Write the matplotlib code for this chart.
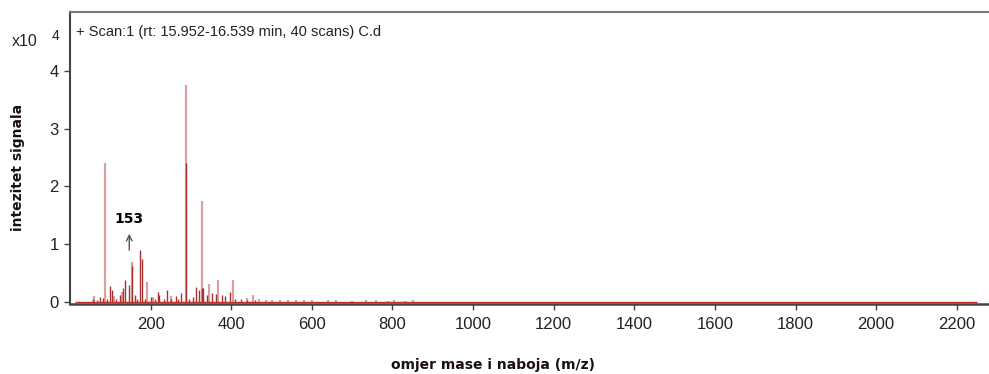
import matplotlib
matplotlib.use("Agg")
import matplotlib.pyplot as plt

# Peak list (m/z, intensity in units of 10^4)
dark_mz = [58, 68, 75, 82, 92, 99, 104, 114, 123, 132, 136, 146, 153, 160, 166, 174, 178, 186,
           200, 210, 218, 222, 232, 241, 250, 262, 268, 275, 287, 296, 305, 313, 320, 328,
           331, 340, 352, 362, 376, 384, 397, 410, 425, 440, 460]
dark_int = [0.06, 0.04, 0.08, 0.07, 0.05, 0.27, 0.20, 0.05, 0.12, 0.25, 0.39, 0.30, 0.62, 0.12,
            0.06, 0.90, 0.75, 0.06, 0.08, 0.05, 0.18, 0.12, 0.05, 0.20, 0.06, 0.10, 0.05, 0.16,
            2.40, 0.06, 0.08, 0.26, 0.20, 0.25, 0.25, 0.12, 0.15, 0.14, 0.13, 0.10, 0.18, 0.06,
            0.05, 0.04, 0.03]

pale_mz = [60, 86, 108, 128, 153, 190, 205, 250, 287, 328, 345, 368, 405, 440, 454, 470, 485,
           500, 520, 540, 560, 580, 600, 640, 660, 700, 735, 760, 790, 805, 830, 850]
pale_int = [0.10, 2.40, 0.10, 0.18, 0.69, 0.34, 0.08, 0.10, 3.75, 1.74, 0.32, 0.39, 0.39, 0.07,
            0.13, 0.05, 0.04, 0.04, 0.03, 0.03, 0.04, 0.03, 0.03, 0.04, 0.03, 0.02, 0.03, 0.03,
            0.02, 0.03, 0.02, 0.03]

baseline_range = (12, 2250)
annot_mz = 153
annot_label = "153"

fig = plt.figure(figsize=(9.89, 3.74), dpi=100)
ax = fig.add_axes([0.0708, 0.187, 0.93, 0.781])

ax.vlines(pale_mz, 0, pale_int, color="#d9a2a2", linewidth=1.6)
ax.vlines(dark_mz, 0, dark_int, color="#a83030", linewidth=1.0)
ax.hlines(0, *baseline_range, color="#c0302a", linewidth=1.0)

ax.set_xlim(0, 2282)
ax.set_ylim(-0.035, 5.02)
ax.set_xticks(range(200, 2201, 200))
ax.set_yticks([0, 1, 2, 3, 4])

for lbl in ax.get_xticklabels() + ax.get_yticklabels():
    lbl.set_fontfamily("Liberation Sans")
    lbl.set_fontsize(12)
    lbl.set_color("#222222")
ax.tick_params(axis="x", direction="out", length=4, width=1, color="#444444", pad=5)
ax.tick_params(axis="y", direction="out", length=4, width=1, color="#444444", pad=4)

ax.spines["top"].set_color("#777777")
ax.spines["top"].set_linewidth(1.5)
ax.spines["left"].set_color("#444444")
ax.spines["left"].set_linewidth(1.5)
ax.spines["bottom"].set_color("#444444")
ax.spines["bottom"].set_linewidth(1.8)
ax.spines["right"].set_visible(False)

ax.text(0.006, 0.93, "+ Scan:1 (rt: 15.952-16.539 min, 40 scans) C.d",
        transform=ax.transAxes, fontsize=10.5, family="Liberation Sans",
        color="#222222", va="center", ha="left")
fig.text(12 / 989, 1 - 41 / 374, "x10", fontsize=11.5, family="Liberation Sans",
         color="#222222", va="center", ha="left")
fig.text(52 / 989, 1 - 36 / 374, "4", fontsize=10, family="Liberation Sans",
         color="#222222", va="center", ha="left")

fig.text(18 / 989, 1 - 167 / 374, "intezitet signala", fontsize=10, fontweight="bold",
         color="#1a1010", family="DejaVu Sans", rotation=90, ha="center", va="center")
fig.text(493 / 989, 1 - 365 / 374, "omjer mase i naboja (m/z)", fontsize=10,
         fontweight="bold", color="#1a1010", family="DejaVu Sans", ha="center", va="center")

ax.annotate("", xy=(annot_mz - 6, 1.23), xytext=(annot_mz - 6, 0.85),
            arrowprops=dict(arrowstyle="->", color="#555555", lw=1.0))
ax.text(annot_mz - 6, 1.43, annot_label, fontsize=10, fontweight="bold",
        ha="center", va="center", color="black", family="DejaVu Sans")

fig.savefig("out.png", dpi=100)
